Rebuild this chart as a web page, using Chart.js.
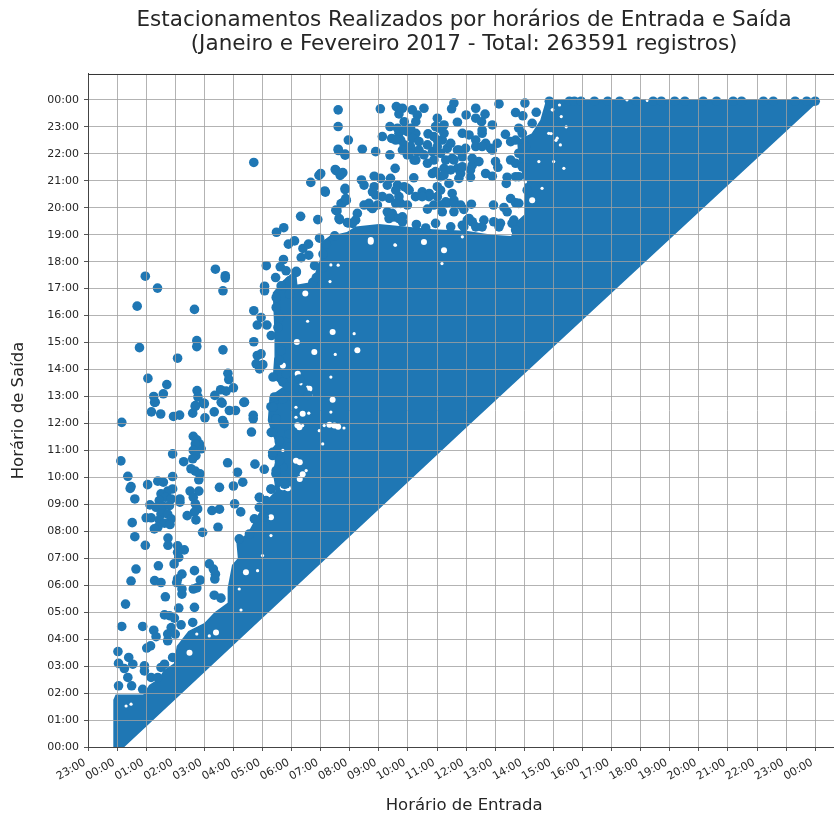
<!DOCTYPE html>
<html lang="pt">
<head>
<meta charset="utf-8">
<title>Estacionamentos</title>
<script src="https://cdn.jsdelivr.net/npm/chart.js@4/dist/chart.umd.min.js"></script>
<style>
html,body{margin:0;padding:0;background:#fff;overflow:hidden}
#frame{width:834px;height:817px;overflow:hidden;position:relative}
canvas{display:block}
</style>
</head>
<body>
<div id="frame"><canvas id="c" width="845" height="817"></canvas></div>
<script>
// All values are hours of the day [entrada, saida].
const titleLines = ['Estacionamentos Realizados por horários de Entrada e Saída','(Janeiro e Fevereiro 2017 - Total: 263591 registros)'];
const xAxisTitle = 'Horário de Entrada';
const yAxisTitle = 'Horário de Saída';
const xTickLabels = ['23:00','00:00','01:00','02:00','03:00','04:00','05:00','06:00','07:00','08:00','09:00','10:00','11:00','12:00','13:00','14:00','15:00','16:00','17:00','18:00','19:00','20:00','21:00','22:00','23:00','00:00'];
const yTickLabels = ['00:00','01:00','02:00','03:00','04:00','05:00','06:00','07:00','08:00','09:00','10:00','11:00','12:00','13:00','14:00','15:00','16:00','17:00','18:00','19:00','20:00','21:00','22:00','23:00','00:00'];

// outline of the solid cloud of records
const cloudOutline = [[-0.13,0],[-0.13,1.75],[-0.05,1.95],[0.9,1.95],[1.1,2.3],[1.45,2.55],[1.6,2.85],[1.95,3.1],[2.05,3.75],[2.45,4.3],[3.0,4.6],[3.35,5.0],[3.8,5.35],[3.8,5.9],[3.95,6.75],[4.15,7.0],[4.1,7.6],[4.5,7.95],[4.75,8.45],[5.1,9.1],[5.45,9.5],[5.35,10.2],[5.5,10.9],[5.2,10.9],[5.46,11.25],[5.18,12.1],[5.24,13.0],[5.7,13.35],[5.35,13.7],[5.4,14.45],[5.41,15.3],[5.35,16.85],[5.7,17.3],[6.15,17.7],[6.2,17.15],[6.7,17.25],[6.97,18.07],[7.0,18.7],[7.3,18.95],[7.9,19.1],[8.2,19.3],[9.0,19.4],[9.9,19.3],[10.85,19.2],[12.0,19.15],[12.9,19.0],[13.55,18.95],[13.7,19.45],[14.0,19.75],[14.0,20.9],[13.8,21.85],[13.75,22.5],[14.25,22.75],[14.55,23.25],[14.75,24.0],[15.5,24.03],[24.0,24.03],[24.1,23.93],[12.0,11.84],[0.25,0]];

const dotsEarly = [[0.16,12.04],[0.13,10.61],[0.37,10.04],[0.48,9.66],[0.45,9.59],[0.61,9.2],[1.05,9.73],[1.4,9.86],[1.59,9.82],[1.91,10.03],[1.91,10.87],[2.29,10.58],[1.18,12.43],[1.5,12.35],[1.94,12.26],[2.15,12.31],[1.29,12.78],[2.6,12.38],[2.69,12.66],[2.97,12.76],[3.02,12.21],[3.34,12.43],[3.61,12.75],[3.63,12.11],[3.68,11.99],[3.86,12.48],[4.07,12.48],[4.36,12.78],[4.68,12.3],[4.68,12.17],[4.62,11.68],[2.62,11.52],[2.74,11.39],[2.83,11.24],[2.89,11.06],[2.69,11.24],[2.62,11.0],[2.71,10.81],[2.6,10.69],[2.54,10.32],[2.69,10.23],[2.85,10.13],[2.81,9.91],[3.8,10.54],[4.74,10.49],[5.06,10.3],[4.14,10.19],[4.0,9.68],[4.32,9.82],[3.52,9.63],[2.51,9.49],[2.81,9.49],[2.62,9.26],[2.69,9.02],[2.77,8.83],[2.66,8.71],[2.71,8.42],[2.41,8.58],[2.16,9.2],[2.16,9.08],[1.91,9.57],[1.74,9.49],[1.51,9.39],[1.66,9.26],[1.86,9.2],[1.45,9.14],[1.13,8.98],[1.34,8.89],[1.59,8.92],[1.8,8.95],[1.51,8.64],[1.74,8.64],[1.0,8.5],[1.17,8.5],[1.45,8.42],[1.86,8.46],[1.63,8.3],[1.82,8.25],[1.4,8.15],[1.28,8.09],[0.52,8.32],[0.61,7.8],[0.97,7.48],[1.75,7.75],[1.75,7.48],[2.08,7.46],[2.31,7.31],[2.08,7.22],[2.12,7.03],[3.26,8.77],[3.52,8.82],[4.04,9.02],[4.25,8.72],[3.47,8.15],[2.94,7.96],[0.65,6.6],[0.48,6.15],[1.42,6.72],[1.96,6.79],[1.29,6.17],[1.51,6.1],[2.23,6.41],[2.08,6.23],[2.05,6.1],[2.66,6.54],[2.86,6.19],[3.17,6.79],[3.31,6.6],[3.38,6.41],[3.36,6.23],[1.66,5.57],[2.23,5.86],[2.23,5.67],[2.62,5.86],[2.74,5.9],[0.29,5.3],[3.34,5.63],[3.57,5.52],[2.12,5.15],[2.66,5.18],[0.16,4.47],[0.88,4.47],[1.63,4.9],[1.8,4.87],[1.97,4.78],[1.26,4.33],[1.86,4.43],[2.2,4.53],[2.6,4.62],[1.34,4.09],[1.74,3.94],[1.74,4.19],[2.0,4.19],[1.15,3.75],[1.02,3.67],[0.03,3.54],[0.05,3.1],[0.4,3.32],[0.25,2.91],[0.54,3.07],[0.94,3.01],[0.94,2.82],[0.37,2.58],[0.05,2.27],[0.5,2.27],[0.88,2.14],[1.17,2.58],[1.4,2.58],[1.63,3.07],[1.51,2.95],[1.91,3.32],[5.29,9.57],[4.89,9.26],[5.12,9.14],[4.89,8.89],[4.72,8.46],[5.06,8.52],[4.2,7.72],[4.55,7.9],[5.58,11.31],[5.35,11.68],[5.35,10.81],[5.46,10.13],[5.8,9.76],[5.29,12.62],[5.46,12.17],[5.92,11.62],[5.69,10.38],[5.92,11.12],[5.41,12.85],[5.35,12.6],[5.47,12.17],[5.3,11.67],[5.58,11.36],[5.35,10.93],[5.58,10.62],[5.47,10.25],[5.75,9.75],[5.3,9.56],[4.9,9.25]];

const dotsMidday = [[4.7,21.68],[7.61,22.12],[7.84,21.95],[6.94,21.2],[6.66,20.94],[7.16,20.58],[7.53,21.38],[7.76,21.3],[7.67,21.2],[7.84,20.67],[7.88,20.27],[7.7,20.15],[7.56,19.88],[7.65,19.56],[7.94,19.44],[6.31,19.68],[6.9,19.56],[5.73,19.26],[5.48,19.09],[6.96,18.87],[6.1,18.77],[5.89,18.65],[6.39,18.49],[6.58,18.65],[6.33,18.15],[6.59,18.24],[5.72,18.08],[6.79,17.85],[5.13,17.85],[5.61,17.81],[6.16,17.64],[5.45,17.41],[5.07,17.09],[5.07,16.92],[0.97,17.46],[3.38,17.72],[3.72,17.48],[3.72,17.4],[1.39,17.02],[3.64,16.92],[0.69,16.35],[2.66,16.23],[4.7,16.18],[4.95,15.93],[4.82,15.65],[5.15,15.65],[4.7,15.03],[2.74,15.07],[2.74,14.85],[3.64,14.73],[0.77,14.81],[2.08,14.42],[4.95,14.58],[4.82,14.52],[4.78,14.21],[5.01,14.18],[4.9,14.02],[5.36,13.72],[1.06,13.67],[1.71,13.44],[1.26,13.0],[1.59,13.1],[1.31,12.79],[3.81,13.86],[3.84,13.63],[4.0,13.32],[3.56,13.25],[3.75,13.2],[2.75,13.22],[2.78,12.98],[3.36,13.04],[3.0,12.73],[2.69,12.63],[3.58,12.79],[4.38,12.79],[5.47,16.67],[5.47,16.3],[5.58,15.93],[5.53,15.56],[5.3,15.26],[5.64,14.7],[5.58,14.33],[5.81,13.84],[5.7,13.53],[5.87,13.35],[5.41,12.98],[5.7,12.91],[6.04,12.98],[6.39,13.22],[6.56,13.04],[6.27,13.65],[6.16,17.6],[5.81,17.66],[5.93,17.29],[5.64,17.1],[5.93,16.8],[6.73,17.23],[6.85,17.41],[7.08,17.78],[7.08,18.28],[7.19,18.65],[7.48,18.96]];

const dotsLate = [[7.6,23.63],[7.6,23.01],[7.95,22.51],[7.6,22.17],[7.84,21.99],[8.43,22.17],[8.89,22.08],[9.12,22.64],[9.38,23.01],[9.05,23.67],[9.38,21.96],[9.56,21.46],[7.5,21.42],[7.73,21.27],[7.0,21.27],[7.14,20.62],[7.84,20.72],[8.4,21.03],[8.49,20.84],[8.84,21.17],[9.06,21.09],[9.4,21.09],[10.2,21.11],[9.6,23.75],[9.81,23.69],[9.69,23.48],[10.15,23.63],[10.32,23.44],[10.55,23.69],[9.87,23.19],[10.27,23.19],[11.01,23.32],[11.24,23.07],[11.58,23.88],[11.5,23.67],[12.0,23.44],[12.33,23.69],[12.33,23.32],[12.65,23.47],[12.53,23.19],[12.9,23.07],[13.13,23.85],[13.7,23.53],[14.02,23.88],[13.95,23.41],[14.41,23.54],[11.7,23.17],[11.87,22.76],[14.27,23.13],[13.81,22.95],[9.44,22.57],[9.69,22.76],[9.98,22.82],[10.27,22.76],[9.75,22.51],[10.15,22.57],[10.69,22.74],[10.38,22.45],[10.32,22.08],[9.98,21.96],[10.21,21.77],[10.67,22.33],[10.67,21.65],[10.84,22.08],[11.07,22.95],[11.18,22.51],[11.35,22.2],[11.52,21.83],[11.01,22.51],[11.12,22.02],[11.24,21.46],[10.84,21.27],[11.12,21.15],[11.7,21.46],[11.41,20.9],[11.81,21.27],[12.15,21.13],[12.21,21.58],[12.44,21.71],[12.33,22.51],[12.55,22.76],[12.67,22.39],[12.84,22.2],[13.01,21.71],[13.09,21.5],[12.67,21.27],[12.9,21.17],[13.41,21.13],[13.38,20.9],[13.53,21.77],[13.07,22.39],[13.35,22.72],[13.53,22.45],[11.98,22.2],[11.75,22.14],[11.58,21.77],[8.84,20.78],[8.89,20.47],[9.29,20.84],[9.64,20.84],[9.98,20.72],[10.26,20.41],[10.49,20.59],[10.73,20.53],[11.01,20.78],[11.01,20.41],[11.52,20.53],[11.58,20.28],[11.35,20.18],[8.49,20.1],[8.72,20.03],[7.75,20.18],[7.86,20.34],[7.52,19.91],[7.63,19.6],[7.92,19.45],[8.26,19.79],[8.2,19.54],[8.78,19.97],[9.29,19.85],[9.35,19.6],[9.75,20.16],[9.98,20.1],[9.69,20.41],[9.36,20.35],[9.81,19.66],[9.52,19.66],[10.67,19.95],[11.18,19.85],[11.58,19.85],[11.92,19.94],[12.18,20.13],[12.94,20.1],[13.3,20.01],[13.41,19.85],[13.53,20.34],[13.7,20.18],[13.81,20.16],[12.1,19.6],[12.61,19.54],[12.95,19.48],[13.18,19.42],[12.21,19.48],[10.95,19.42],[10.29,19.38],[10.61,19.25],[11.47,19.29],[11.87,19.35],[12.55,19.29],[13.64,19.54],[9.64,22.95],[9.87,22.88],[10.09,22.95],[9.58,22.51],[9.87,22.33],[10.09,22.27],[10.38,22.14],[10.55,21.96],[10.27,21.77],[10.04,22.02],[9.81,22.14],[10.95,23.01],[10.89,22.64],[11.01,22.27],[10.89,21.77],[11.24,22.76],[11.47,22.39],[11.3,21.77],[11.7,22.14],[11.87,21.89],[11.47,21.4],[10.95,21.34],[11.24,21.21],[11.75,21.09],[12.1,22.7],[12.55,22.88],[12.33,22.27],[12.55,22.27],[12.9,22.14],[12.21,21.83],[11.87,21.52],[12.15,21.4],[13.7,22.51],[13.81,22.02],[13.7,21.65],[13.7,21.15],[13.93,21.52],[13.81,21.15],[14.04,22.27],[13.93,22.76],[14.1,20.65],[8.78,20.59],[9.12,20.41],[9.58,20.65],[9.87,20.78],[10.04,20.65],[9.58,20.16],[8.66,20.16],[8.95,20.1],[10.72,20.41],[10.89,20.1],[10.49,20.41],[11.12,20.65],[11.3,20.22],[11.58,20.16],[11.81,20.1],[11.12,20.1],[8.09,19.42],[9.46,19.79],[9.69,19.6],[9.81,19.48],[12.04,19.54],[12.33,19.29],[11.92,19.29],[13.13,19.29],[13.58,19.42],[13.7,19.17]];

const dotsTopEdge = [[14.86,23.95],[15.55,23.95],[15.72,23.95],[15.95,23.95],[16.41,23.95],[16.87,23.95],[17.28,23.95],[17.85,23.95],[18.43,23.95],[18.71,23.95],[19.17,23.95],[19.52,23.95],[20.15,23.95],[20.61,23.95],[21.18,23.95],[21.47,23.95],[22.22,23.95],[22.56,23.95],[23.31,23.95],[23.71,23.95],[24.0,23.95]];

// gaps left inside the solid cloud
const gapsWide = [[7.41,15.39],[8.26,14.71],[6.78,14.65],[6.18,15.02],[6.47,16.82],[5.7,14.15],[6.21,13.84],[7.41,12.88],[6.61,13.29],[7.47,11.92],[7.3,11.95],[7.6,11.88],[6.27,11.86],[6.15,10.62],[6.38,10.12],[5.7,9.63],[8.72,18.74],[8.72,18.8],[10.55,18.73],[11.24,18.42],[14.27,20.28],[2.49,3.5],[3.4,4.25],[4.43,6.48],[5.29,8.52],[5.87,9.6],[6.28,9.94],[6.28,10.56],[6.2,11.93],[6.38,12.36]];
const gapsNarrow = [[8.15,15.33],[6.55,15.79],[7.5,14.56],[7.35,17.88],[7.32,17.26],[7.35,13.72],[6.59,12.38],[7.35,12.42],[7.8,11.83],[7.12,11.92],[9.55,18.62],[9.57,18.61],[11.87,18.92],[11.17,17.93],[7.6,17.87],[14.61,20.72],[14.04,20.96],[15.36,21.46],[14.5,21.71],[15.01,21.71],[15.13,22.58],[14.84,22.76],[15.24,22.33],[14.96,23.63],[15.21,23.81],[15.27,23.38],[14.98,23.63],[14.92,22.75],[15.09,22.5],[15.44,23.0],[18.23,23.98],[17.53,24.0],[0.31,1.52],[0.48,1.59],[2.74,4.19],[3.17,4.12],[4.83,6.54],[4.2,5.86],[4.26,5.08],[5.0,7.1],[5.29,7.84],[6.32,13.47],[6.55,13.35],[6.67,13.04],[6.15,12.6],[6.15,12.23],[6.38,11.92],[5.92,11.55],[5.7,11.0],[6.95,11.73],[7.07,11.24],[6.5,10.25]];

const toPoints = list => list.map(p => ({x:p[0], y:p[1]}));
const BLUE = '#1f77b4';
const TEXT = '#262626';
const GRID = 'rgba(160,160,160,0.8)';
const FONT = '"DejaVu Sans", sans-serif';

const topSpine = {
  id:'topSpine',
  afterDraw(chart){
    const {ctx, chartArea:a} = chart;
    ctx.save();
    ctx.strokeStyle = '#333';
    ctx.lineWidth = 1;
    ctx.beginPath();
    ctx.moveTo(a.left, a.top+0.5);
    ctx.lineTo(a.right, a.top+0.5);
    ctx.stroke();
    ctx.restore();
  }
};

new Chart(document.getElementById('c'), {
  type:'scatter',
  plugins:[topSpine],
  data:{datasets:[
    {label:'Registros', data:toPoints([...dotsEarly,...dotsMidday,...dotsLate,...dotsTopEdge]), backgroundColor:BLUE, borderColor:BLUE, borderWidth:0, pointRadius:4.8, order:0},
    {label:'gapsNarrow', data:toPoints(gapsNarrow), backgroundColor:'#fff', borderWidth:0, pointRadius:1.6, order:1},
    {label:'gapsWide', data:toPoints(gapsWide), backgroundColor:'#fff', borderWidth:0, pointRadius:3, order:2},
    {label:'cloud', data:toPoints(cloudOutline), showLine:true, fill:'shape', tension:0, backgroundColor:BLUE, borderColor:BLUE, borderWidth:0, pointRadius:0, order:3}
  ]},
  options:{
    responsive:false, animation:false,
    layout:{padding:0},
    events:[],
    plugins:{
      legend:{display:false}, tooltip:{enabled:false},
      title:{display:true, fullSize:false, text:titleLines, color:TEXT, font:{family:FONT,size:21.5,weight:'normal',lineHeight:1.116}, padding:{top:8,bottom:18}}
    },
    scales:{
      x:{type:'linear', min:-1, max:24.86,
        afterFit(s){s.height=70;},
        title:{display:true,text:xAxisTitle,color:TEXT,font:{family:FONT,size:16.5},padding:{top:0,bottom:1}},
        grid:{color:GRID,lineWidth:1,z:1,tickLength:4,tickColor:'#555'},
        border:{display:true,color:'#444',width:1,z:2},
        ticks:{stepSize:1,includeBounds:false,autoSkip:false,minRotation:30,maxRotation:30,padding:5,labelOffset:-3,color:TEXT,font:{family:FONT,size:11},
          callback:v=>xTickLabels[v+1]}
      },
      y:{type:'linear', min:0, max:24.96,
        afterFit(s){s.width=88;},
        title:{display:true,text:yAxisTitle,color:TEXT,font:{family:FONT,size:16.5},padding:{top:9,bottom:0}},
        grid:{color:GRID,lineWidth:1,z:1,tickLength:4,tickColor:'#555'},
        border:{display:true,color:'#444',width:1,z:2},
        ticks:{stepSize:1,includeBounds:false,autoSkip:false,padding:5,color:TEXT,font:{family:FONT,size:11},
          callback:v=>yTickLabels[v]}
      }
    }
  }
});
</script>
</body>
</html>
